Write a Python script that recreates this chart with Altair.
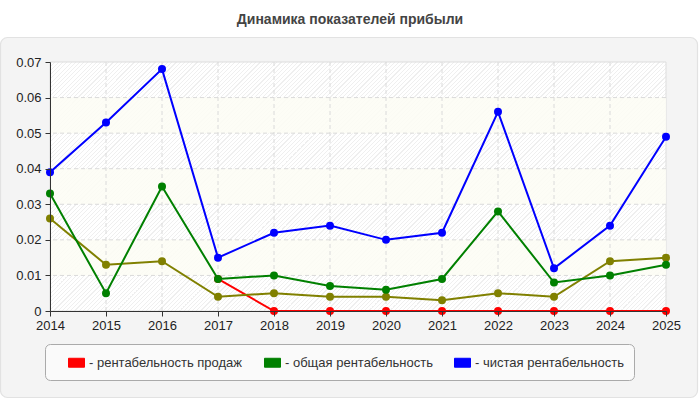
import altair as alt
import pandas as pd

# Profitability indicators by year
years = [2014, 2015, 2016, 2017, 2018, 2019, 2020, 2021, 2022, 2023, 2024, 2025]
sales_margin = [None, None, None, 0.009, 0, 0, 0, 0, 0, 0, 0, 0]
total_margin = [0.033, 0.005, 0.035, 0.009, 0.010, 0.007, 0.006, 0.009, 0.028, 0.008, 0.010, 0.013]
net_margin = [0.039, 0.053, 0.068, 0.015, 0.022, 0.024, 0.020, 0.022, 0.056, 0.012, 0.024, 0.049]
extra_series = [0.026, 0.013, 0.014, 0.004, 0.005, 0.004, 0.004, 0.003, 0.005, 0.004, 0.014, 0.015]

series_names = ["рентабельность продаж", "общая рентабельность", "чистая рентабельность"]
series_colors = ["#ff0000", "#008000", "#0000ff"]
extra_color = "#808000"

y_ticks = [0, 0.01, 0.02, 0.03, 0.04, 0.05, 0.06, 0.07]
band_low = [0.05, 0.03, 0.01]
band_high = [0.06, 0.04, 0.02]

FONT = "Liberation Sans"
W, H = 616, 249


def frame(name, values):
    rows = [{"year": y, "value": v, "series": name} for y, v in zip(years, values) if v is not None]
    return pd.DataFrame(rows)


x_scale = alt.Scale(domain=[years[0], years[-1]], nice=False, zero=False)
y_scale = alt.Scale(domain=[y_ticks[0], y_ticks[-1]], nice=False, zero=False)
color_scale = alt.Scale(domain=series_names, range=series_colors)

axis_style = dict(
    title=None, grid=False, tickSize=5, labelOverlap=False, zindex=1,
    domainColor="#333333", tickColor="#333333", labelColor="#222222",
    labelFont=FONT, labelFontSize=13,
)
x_axis = alt.Axis(values=years, format="d", labelFlush=False, labelPadding=3, **axis_style)
y_axis = alt.Axis(values=y_ticks, labelPadding=4, labelFlush=False,
                  labelExpr="datum.value == 0 ? '0' : format(datum.value, '.2f')", **axis_style)


def X(field):
    return alt.X(field, type="quantitative", scale=x_scale, axis=x_axis)


def Y(field):
    return alt.Y(field, type="quantitative", scale=y_scale, axis=y_axis)


legend = alt.Legend(
    orient="none", legendX=-5, legendY=282, direction="horizontal", title=None,
    fillColor="#fafafa", strokeColor="#aaaaaa", cornerRadius=5, padding=10,
    symbolType="M-1,-0.56 L1,-0.56 L1,0.56 L-1,0.56 Z", symbolSize=256,
    symbolStrokeColor="#999999", symbolStrokeWidth=1, symbolOffset=13,
    labelFont=FONT, labelFontSize=13, labelColor="#333333", labelOffset=4,
    columnPadding=8, labelLimit=300,
    labelExpr="'- ' + datum.label",
)

# Rounded grey panel behind the plot and legend
panel = alt.Chart(pd.DataFrame({"k": [0]})).mark_rect(
    fill="#f4f4f4", stroke="#e2e2e2", strokeWidth=1.2, cornerRadius=7
).encode(x=alt.value(-49.5), x2=alt.value(647.5), y=alt.value(-24.5), y2=alt.value(335.5))

# Diagonal hatching over the plot area
r = H / W
a = (W + H) / (W * (1 + r * r))
period, line_w = 4.2, 1.1
L = W + H
stops = []
pos = 0.0
while pos < L:
    o1 = min(pos / L, 1)
    o2 = min((pos + line_w) / L, 1)
    o3 = min((pos + period) / L, 1)
    stops += [{"offset": o1, "color": "#efefef"}, {"offset": o2, "color": "#efefef"},
              {"offset": o2, "color": "#ffffff"}, {"offset": o3, "color": "#ffffff"}]
    pos += period
hatch_fill = {"gradient": "linear", "x1": 0, "y1": 0, "x2": a, "y2": a * r, "stops": stops}

area_df = pd.DataFrame({"x0": [years[0]], "x1": [years[-1]], "y0": [y_ticks[0]], "y1": [y_ticks[-1]]})
hatch = alt.Chart(area_df).mark_rect(fill=hatch_fill, stroke="#dddddd", strokeWidth=1).encode(
    x=X("x0"), x2="x1", y=Y("y0"), y2="y1",
)

bands_df = pd.DataFrame({"lo": band_low, "hi": band_high, "x0": years[0], "x1": years[-1]})
bands = alt.Chart(bands_df).mark_rect(fill="#fdfdf4", opacity=0.85).encode(
    x=X("x0"), x2="x1", y=Y("lo"), y2="hi",
)

grid_style = dict(color="#dadada", strokeDash=[4, 3], strokeWidth=1)
vgrid = alt.Chart(pd.DataFrame({"year": years[1:-1]})).mark_rule(**grid_style).encode(x=X("year"))
hgrid = alt.Chart(pd.DataFrame({"v": y_ticks[1:-1]})).mark_rule(**grid_style).encode(y=Y("v"))


def series_layers(df, color=None):
    base = alt.Chart(df).encode(x=X("year"), y=Y("value"))
    if color is None:
        enc = dict(color=alt.Color("series:N", scale=color_scale, legend=legend))
        line = base.mark_line(strokeWidth=2).encode(**enc)
        pts = base.mark_point(filled=True, size=64, opacity=1).encode(**enc)
    else:
        line = base.mark_line(strokeWidth=2, color=color)
        pts = base.mark_point(filled=True, size=64, opacity=1, color=color)
    return [line, pts]


layers = [panel, hatch, bands, vgrid, hgrid]
layers += series_layers(frame(series_names[0], sales_margin))
layers += series_layers(frame("extra", extra_series), color=extra_color)
layers += series_layers(frame(series_names[1], total_margin))
layers += series_layers(frame(series_names[2], net_margin))

chart = alt.layer(*layers).properties(
    width=W, height=H,
    autosize=alt.AutoSizeParams(type="none"),
    padding={"left": 50, "top": 62, "right": 34, "bottom": 89},
    title=alt.TitleParams(
        "Динамика показателей прибыли", anchor="middle", frame="group", dx=-8,
        offset=10, font=FONT, fontSize=14, fontWeight="bold", color="#444444",
    ),
).configure_view(stroke=None).configure(background="white")

chart.save("out.html", embed_options={"renderer": "svg", "actions": False})
